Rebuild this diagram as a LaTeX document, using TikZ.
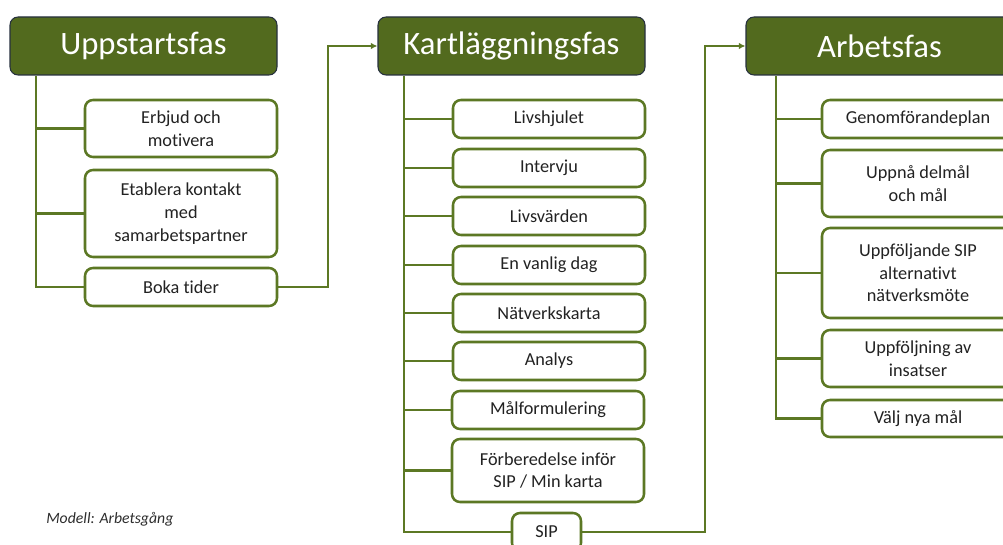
\documentclass[tikz,border=0pt]{standalone}
\usepackage{fontspec}
\setmainfont[Ligatures={NoCommon}]{Carlito}
\usetikzlibrary{arrows.meta}
\definecolor{hdrfill}{RGB}{82,106,30}
\definecolor{hdrline}{RGB}{38,48,62}
\definecolor{lnolive}{RGB}{92,120,36}
\definecolor{txtdark}{RGB}{34,34,34}
\definecolor{captxt}{RGB}{45,45,45}
\begin{document}
\begin{tikzpicture}[x=0.75pt,y=-0.75pt,
  hdr/.style={draw=hdrline, line width=0.8pt, fill=hdrfill, text=white, rounded corners=6pt,
    minimum width={267*0.75pt}, minimum height={58*0.75pt}, inner sep=0pt,
    font=\fontsize{24.5}{28}\selectfont},
  item/.style={draw=lnolive, line width=1.9pt, fill=white, rounded corners=6pt,
    minimum width={192*0.75pt}, align=center, inner sep=0pt, text=txtdark,
    font=\fontsize{13.7}{17}\selectfont},
  conn/.style={draw=lnolive, line width=1.9pt},
  arr/.style={conn, -{Latex[length=5pt,width=5pt]}}]
\useasboundingbox (0,0) rectangle (1003,545);
\clip (0,0) rectangle (1003,545);

% headers
\node[hdr] (h1) at (143.5,46) {Uppstartsfas};
\node[hdr] (h2) at (511.5,46) {Kartläggningsfas};
\node[hdr] (h3) at (879.5,46) {Arbetsfas};

% trunk coordinates
\coordinate (t1) at (36,0);
\coordinate (t2) at (404,0);
\coordinate (t3) at (776,0);
\coordinate (j1) at (328,0);
\coordinate (j2) at (705,0);

% column 1
\node[item, minimum height={57*0.75pt}] (a1) at (181,128.5) {Erbjud och\\motivera};
\node[item, minimum height={87*0.75pt}] (a2) at (181,213.5) {Etablera kontakt\\med\\samarbetspartner};
\node[item, minimum height={38*0.75pt}] (a3) at (181,287) {Boka tider};

% column 2
\node[item, minimum height={38*0.75pt}] (b1) at (549,119) {Livshjulet};
\node[item, minimum height={38*0.75pt}] (b2) at (549,168) {Intervju};
\node[item, minimum height={38*0.75pt}] (b3) at (549,216) {Livsvärden};
\node[item, minimum height={38*0.75pt}] (b4) at (549,265) {En vanlig dag};
\node[item, minimum height={38*0.75pt}] (b5) at (549,313) {Nätverkskarta};
\node[item, minimum height={38*0.75pt}] (b6) at (549,361) {Analys};
\node[item, minimum height={38*0.75pt}] (b7) at (548,410) {Målformulering};
\node[item, minimum height={63*0.75pt}] (b8) at (548,470.5) {Förberedelse inför\\SIP / Min karta};
\node[item, minimum height={38*0.75pt}, minimum width={69*0.75pt}] (b9) at (546.5,532) {SIP};

% column 3
\node[item, minimum height={38*0.75pt}] (c1) at (918,119) {Genomförandeplan};
\node[item, minimum height={67*0.75pt}] (c2) at (918,183.5) {Uppnå delmål\\och mål};
\node[item, minimum height={90*0.75pt}] (c3) at (918,273) {Uppföljande SIP\\alternativt\\nätverksmöte};
\node[item, minimum height={57*0.75pt}] (c4) at (918,358.5) {Uppföljning av\\insatser};
\node[item, minimum height={37*0.75pt}] (c5) at (918,418.5) {Välj nya mål};

% trunks
\draw[conn] (h1.south -| t1) |- (a3.west);
\draw[conn] (a1.west) -- (a1.west -| t1);
\draw[conn] (a2.west) -- (a2.west -| t1);

\draw[conn] (h2.south -| t2) |- (b9.west);
\foreach \n in {b1,b2,b3,b4,b5,b6,b7,b8}
  \draw[conn] (\n.west) -- (\n.west -| t2);

\draw[conn] (h3.south -| t3) |- (c5.west);
\foreach \n in {c1,c2,c3,c4}
  \draw[conn] (\n.west) -- (\n.west -| t3);

% phase links
\draw[arr] (a3.east) -- (a3.east -| j1) |- (h2.west);
\draw[arr] (b9.east) -- (b9.east -| j2) |- (h3.west);

% caption
\node[anchor=west, text=captxt, inner sep=0pt, font=\itshape\fontsize{11.8}{14}\selectfont] (cap) at (46,519) {Modell: Arbetsgång};
\end{tikzpicture}
\end{document}
